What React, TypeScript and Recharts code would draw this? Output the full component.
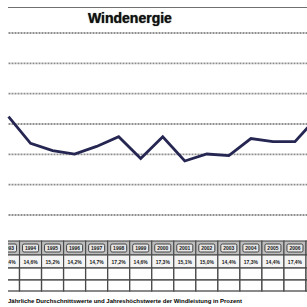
import React from 'react';
import { LineChart, Line, XAxis, YAxis, CartesianGrid } from 'recharts';

const years = [1993, 1994, 1995, 1996, 1997, 1998, 1999, 2000, 2001, 2002, 2003, 2004, 2005, 2006, 2007];
const windShare = [16.2, 11.8, 10.6, 10.05, 11.3, 12.9, 9.3, 12.9, 8.9, 10.05, 9.8, 12.6, 12.1, 12.1, 16.1];
const yearLabels = years.map(String);
const tableValues = ['14,4%', '14,6%', '15,2%', '14,2%', '14,7%', '17,2%', '14,6%', '17,3%', '15,1%', '15,0%', '14,4%', '17,3%', '14,4%', '17,4%', '15,9%'];
const yTicks = [0, 5, 10, 15, 20, 25, 30];
const title = 'Windenergie';
const footnote = 'Jährliche Durchschnittswerte und Jahreshöchstwerte der Windleistung in Prozent';

const data = years.map((y, i) => ({ year: y, value: windShare[i] }));

const COL_W = 22;
const FONT = '"Liberation Sans", Arial, sans-serif';
const VISIBLE_RIGHT = 307;

function TableTick(props: any) {
  const { x, payload } = props;
  const i = years.indexOf(payload.value);
  if (i < 0) return null;
  const left = x - COL_W / 2;
  const showText = x + 8 < VISIBLE_RIGHT;
  return (
    <g fontFamily={FONT}>
      <rect x={left} y={241} width={COL_W} height={14} fill="#bdbdbd" stroke="#4a4a4a" strokeWidth={1.1} />
      <rect x={left + 3} y={244} width={COL_W - 6} height={8} rx={1.5} fill="#e6e6e6" stroke="#333" strokeWidth={0.9} />
      {showText && (
        <text x={x} y={250.2} textAnchor="middle" fontSize={5} fontWeight="bold" fill="#1a1a1a">{yearLabels[i]}</text>
      )}
      <rect x={left} y={255} width={COL_W} height={13} fill="#f4f4f4" stroke="#4a4a4a" strokeWidth={1.1} />
      {showText && (
        <text x={x} y={263.5} textAnchor="middle" fontSize={5} fontWeight="bold" fill="#1a1a1a">{tableValues[i]}</text>
      )}
      <rect x={left} y={268} width={COL_W} height={12} fill="#fff" stroke="#4a4a4a" strokeWidth={1.3} />
      <rect x={left} y={280} width={COL_W} height={11} fill="#fff" stroke="#4a4a4a" strokeWidth={1.3} />
    </g>
  );
}

export default function App() {
  return (
    <div style={{ position: 'fixed', left: 0, top: 0, width: 307, height: 307, overflow: 'hidden', background: '#fff' }}>
      <div style={{ position: 'absolute', left: 0, top: 0 }}>
        <LineChart width={317} height={307} data={data} margin={{ top: 33, right: 0, bottom: 0, left: 8.5 }}>
          <CartesianGrid horizontal vertical={false} stroke="#8f8f8f" strokeWidth={1.8} strokeDasharray="2 1" />
          <XAxis
            dataKey="year"
            type="number"
            domain={[1993, 2007]}
            ticks={years}
            interval={0}
            height={92}
            axisLine={false}
            tickLine={false}
            tick={<TableTick />}
          />
          <YAxis hide domain={[0, 30]} ticks={yTicks} />
          <Line type="linear" dataKey="value" stroke="#262653" strokeWidth={2.8} dot={false} isAnimationActive={false} />
        </LineChart>
      </div>
      <div style={{ position: 'absolute', left: 0, top: 236, width: 8, height: 60, background: '#fff' }} />
      <div style={{ position: 'absolute', left: 8, top: 6.5, width: 299, height: 1.5, background: '#707070' }} />
      <div style={{ position: 'absolute', left: 88, top: 11, fontFamily: FONT, fontSize: 14, fontWeight: 900, color: '#111', lineHeight: '14px', whiteSpace: 'nowrap', textShadow: '0 0 1px #333' }}>{title}</div>
      <div style={{ position: 'absolute', left: 8, top: 298, fontFamily: FONT, fontSize: 6, fontWeight: 'bold', color: '#000', lineHeight: '7px', whiteSpace: 'nowrap' }}>{footnote}</div>
    </div>
  );
}
